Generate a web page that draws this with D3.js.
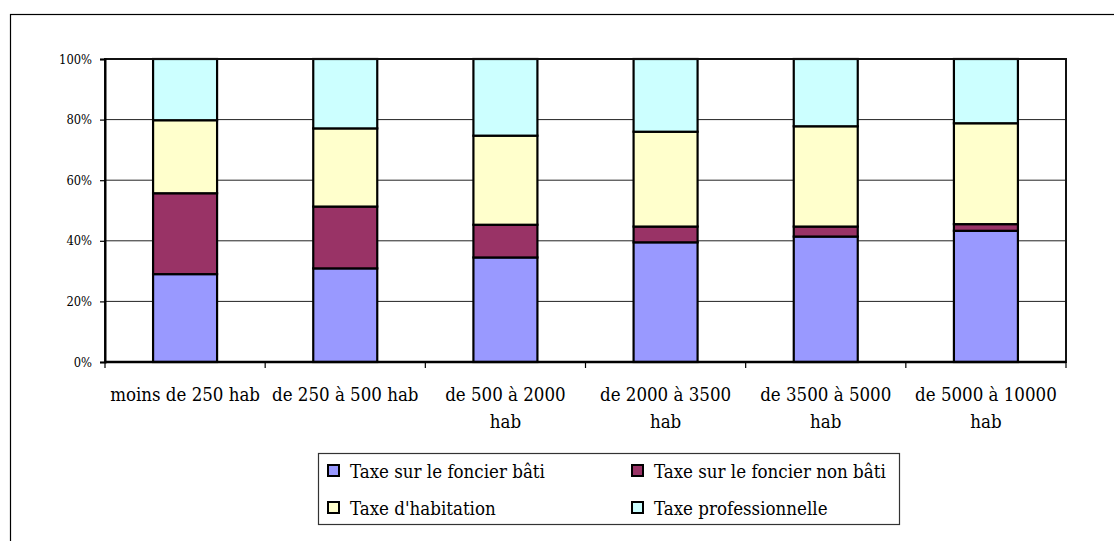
<!DOCTYPE html>
<html><head><meta charset="utf-8">
<script src="https://cdn.jsdelivr.net/npm/d3@7"></script>
<style>body{margin:0;background:#fff}svg{display:block}</style>
</head><body><svg id="c" width="1114" height="541"></svg>
<script>
const categories = [["moins de 250 hab"],["de 250 à 500 hab"],["de 500 à 2000","hab"],["de 2000 à 3500","hab"],["de 3500 à 5000","hab"],["de 5000 à 10000","hab"]];
const seriesNames = ["Taxe sur le foncier bâti","Taxe sur le foncier non bâti","Taxe d'habitation","Taxe professionnelle"];
const bati = [29.0, 30.9, 34.5, 39.5, 41.4, 43.3];
const nonBati = [26.7, 20.4, 10.8, 5.2, 3.3, 2.2];
const habitation = [24.1, 25.8, 29.4, 31.3, 33.1, 33.3];
const professionnelle = [20.2, 22.9, 25.3, 24.0, 22.2, 21.2];
const yTicks = [0, 0.2, 0.4, 0.6, 0.8, 1.0];
const colors = ["#9999FF","#993366","#FFFFCC","#CCFFFF"];
const FONT = "'DejaVu Serif Condensed', 'DejaVu Serif', serif";

const svg = d3.select("#c");
svg.append("rect").attr("x",10.5).attr("y",14.5).attr("width",1200).attr("height",600)
  .attr("fill","none").attr("stroke","#000").attr("stroke-width",1.2);

function fitSize(str, target, base){
  const t = svg.append("text").style("font-family",FONT).attr("font-size",base).text(str);
  const w = t.node().getComputedTextLength(); t.remove();
  return base*target/w;
}
const catSize = fitSize("moins de 250 hab", 150, 20);
const legSize = fitSize("Taxe sur le foncier b", 173, 20);
const tickSize = fitSize("100%", 33, 14);

const L=105, R=1066, T=59, B=362;
const x = d3.scaleBand().domain(d3.range(categories.length)).range([L,R]).paddingInner(0).paddingOuter(0);
const y = d3.scaleLinear().domain([0,1]).range([B,T]);

const rows = categories.map((c,i)=>{
  const tot = bati[i]+nonBati[i]+habitation[i]+professionnelle[i];
  return {i, s0:bati[i]/tot, s1:nonBati[i]/tot, s2:habitation[i]/tot, s3:professionnelle[i]/tot};
});
const stack = d3.stack().keys(["s0","s1","s2","s3"])(rows);

svg.append("g").selectAll("line").data(yTicks.filter(d=>d>0&&d<1)).join("line")
  .attr("x1",L).attr("x2",R).attr("y1",d=>y(d)).attr("y2",d=>y(d))
  .attr("stroke","#222").attr("stroke-width",1);

const bw = 64;
stack.forEach((layer,k)=>{
  svg.append("g").selectAll("rect").data(layer).join("rect")
    .attr("x",(d,i)=>x(i)+x.bandwidth()/2-bw/2)
    .attr("width",bw)
    .attr("y",d=>y(d[1]))
    .attr("height",d=>y(d[0])-y(d[1]))
    .attr("fill",colors[k]).attr("stroke","#000").attr("stroke-width",2.2);
});

svg.append("rect").attr("x",L).attr("y",T).attr("width",R-L).attr("height",B-T)
  .attr("fill","none").attr("stroke","#111").attr("stroke-width",2);

const ya = svg.append("g").attr("transform",`translate(${L},0)`)
  .call(d3.axisLeft(y).tickValues(yTicks).tickFormat(d3.format(".0%")).tickSize(5).tickPadding(8));
ya.attr("font-family",null);
ya.select(".domain").attr("stroke","#000").attr("stroke-width",2);
ya.selectAll(".tick line").attr("stroke","#000").attr("stroke-width",1.2);
ya.selectAll(".tick text").attr("font-size",tickSize).style("font-family",FONT).attr("fill","#000");

const bounds = d3.range(categories.length+1).map(i=> i<categories.length ? x(i) : R);
svg.append("line").attr("x1",L).attr("x2",R).attr("y1",B).attr("y2",B).attr("stroke","#000").attr("stroke-width",2.5);
svg.append("g").selectAll("line").data(bounds).join("line")
  .attr("x1",d=>d).attr("x2",d=>d).attr("y1",B).attr("y2",B+6)
  .attr("stroke","#000").attr("stroke-width",1.2);

const lab = svg.append("g").selectAll("text").data(categories).join("text")
  .attr("x",(d,i)=>x(i)+x.bandwidth()/2).attr("y",401)
  .attr("text-anchor","middle").attr("font-size",catSize).style("font-family",FONT).attr("fill","#000");
lab.selectAll("tspan").data(d=>d).join("tspan")
  .attr("x",function(){return this.parentNode.getAttribute("x");})
  .attr("dy",(d,j)=>j===0?0:27).text(d=>d);

svg.append("rect").attr("x",318.5).attr("y",453.5).attr("width",581).attr("height",71)
  .attr("fill","#fff").attr("stroke","#333").attr("stroke-width",1.2);
const lpos = [[328,478],[632,478],[328,515],[632,515]];
const lg = svg.append("g").selectAll("g").data(seriesNames).join("g")
  .attr("transform",(d,i)=>`translate(${lpos[i][0]},${lpos[i][1]})`);
lg.append("rect").attr("x",0).attr("y",-13).attr("width",11).attr("height",11)
  .attr("fill",(d,i)=>colors[i]).attr("stroke","#000").attr("stroke-width",2);
lg.append("text").attr("x",22).attr("y",0).attr("font-size",legSize).style("font-family",FONT).attr("fill","#000").text(d=>d);
</script></body></html>
